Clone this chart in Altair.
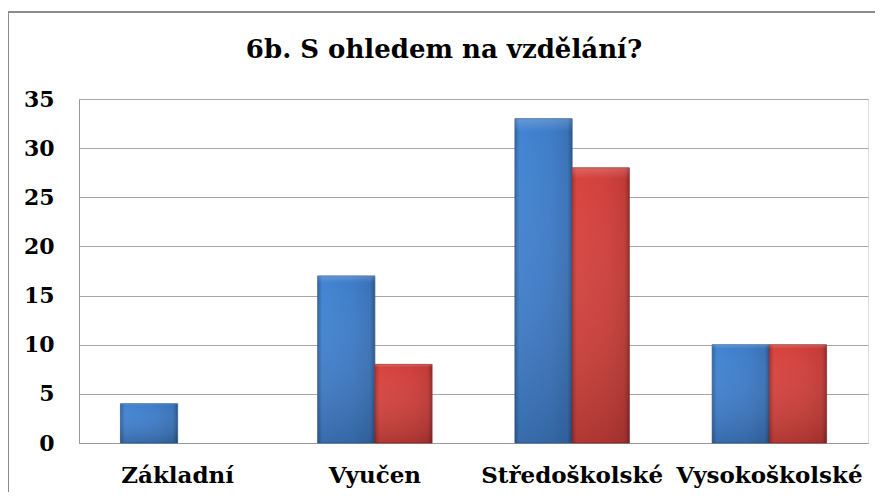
import altair as alt
import pandas as pd

categories = ["Základní", "Vyučen", "Středoškolské", "Vysokoškolské"]
series_a = [4, 17, 33, 10]   # blue
series_b = [0, 8, 28, 10]    # red
y_ticks = [0, 5, 10, 15, 20, 25, 30, 35]
title_text = "6b. S ohledem na vzdělání?"

rows = []
for c, a, b in zip(categories, series_a, series_b):
    rows.append({"cat": c, "series": "A", "value": a})
    rows.append({"cat": c, "series": "B", "value": b})
df = pd.DataFrame(rows)

W, H = 789, 344
FONT = "DejaVu Serif"

blue_grad = alt.LinearGradient(
    gradient="linear", x1=0, y1=0, x2=1, y2=0,
    stops=[alt.GradientStop(offset=0, color="#33649f"),
           alt.GradientStop(offset=0.08, color="#4384d2"),
           alt.GradientStop(offset=0.6, color="#3f7dc9"),
           alt.GradientStop(offset=0.92, color="#3a72b8"),
           alt.GradientStop(offset=1, color="#2a5389")])
red_grad = alt.LinearGradient(
    gradient="linear", x1=0, y1=0, x2=1, y2=0,
    stops=[alt.GradientStop(offset=0, color="#a93330"),
           alt.GradientStop(offset=0.08, color="#d8453f"),
           alt.GradientStop(offset=0.6, color="#d0403c"),
           alt.GradientStop(offset=0.92, color="#c23a36"),
           alt.GradientStop(offset=1, color="#8f2a28")])
shade_grad = alt.LinearGradient(
    gradient="linear", x1=0, y1=0, x2=0, y2=1,
    stops=[alt.GradientStop(offset=0, color="rgba(255,255,255,0.18)"),
           alt.GradientStop(offset=0.04, color="rgba(255,255,255,0.0)"),
           alt.GradientStop(offset=1, color="rgba(0,0,0,0.18)")])

x_enc = alt.X("cat:N", sort=categories, title=None,
              scale=alt.Scale(paddingInner=0.42, paddingOuter=0.21),
              axis=alt.Axis(labelAngle=0, labelFont=FONT, labelFontSize=23,
                            labelFontWeight="bold", labelColor="#000000",
                            labelLimit=0, labelPadding=21, ticks=False,
                            domainColor="#9a9a9a", grid=False))
xo_enc = alt.XOffset("series:N", scale=alt.Scale(domain=["A", "B"], paddingInner=0, paddingOuter=0))
y_enc = alt.Y("value:Q", title=None,
              scale=alt.Scale(domain=[0, 35], nice=False),
              axis=alt.Axis(values=y_ticks, labelFont=FONT, labelFontSize=22,
                            labelFontWeight="bold", labelColor="#000000",
                            labelPadding=25, ticks=False, domainColor="#9a9a9a",
                            gridColor="#a6a6a6", gridWidth=1))

base = alt.Chart(df).encode(x=x_enc, xOffset=xo_enc, y=y_enc)

blue = base.transform_filter((alt.datum.series == "A") & (alt.datum.value > 0)).mark_bar(
    fill=blue_grad, stroke="#2f5d96", strokeWidth=0.8)
red = base.transform_filter((alt.datum.series == "B") & (alt.datum.value > 0)).mark_bar(
    fill=red_grad, stroke="#8f2c2a", strokeWidth=0.8)
shade = base.transform_filter(alt.datum.value > 0).mark_bar(fill=shade_grad)

# outer frame of the chart
frame_top = alt.Chart(df).mark_rule(color="#8c8c8c", strokeWidth=2, clip=False).encode(
    x=alt.value(-71), x2=alt.value(W + 30), y=alt.value(-87))
frame_left = alt.Chart(df).mark_rule(color="#8c8c8c", strokeWidth=2, clip=False).encode(
    x=alt.value(-71), y=alt.value(-87), y2=alt.value(H + 60))

title = alt.Chart(pd.DataFrame({"t": [title_text]})).mark_text(
    font=FONT, fontSize=26, fontWeight="bold", color="#000000",
    align="center", baseline="alphabetic").encode(
    text="t:N", x=alt.value(365), y=alt.value(-41))

chart = alt.layer(blue, red, shade, frame_top, frame_left, title).properties(
    width=W, height=H,
    autosize=alt.AutoSizeParams(type="none"),
    padding={"left": 71, "top": 91, "right": 7, "bottom": 49},
).configure_view(stroke=None).configure(background="#ffffff")

chart.save("out.html", embed_options={"renderer": "svg", "actions": False})
